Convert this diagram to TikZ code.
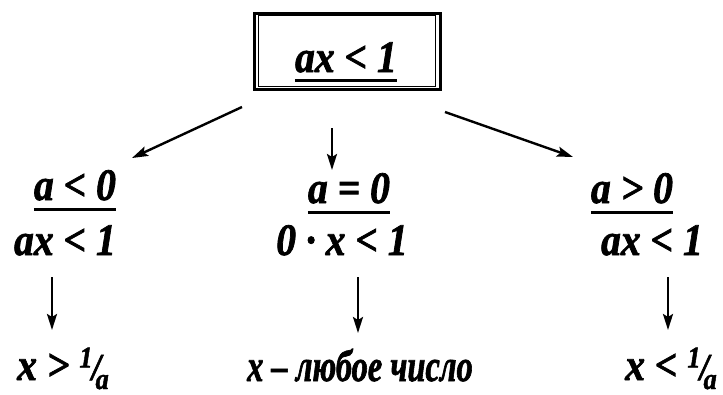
\documentclass[tikz,border=0pt]{standalone}
\usepackage{fontspec}
\setmainfont{Liberation Serif}[BoldItalicFeatures={FakeBold=1.6,FakeStretch=0.88}]
\usetikzlibrary{arrows.meta}
\newcommand\slfr[2]{\raisebox{0.28em}{\fontsize{30}{30}\selectfont #1}\kern-0.02em{\fontsize{38}{40}\selectfont /}\kern-0.12em\raisebox{-0.2em}{\fontsize{30}{30}\selectfont #2}}
\begin{document}
\begin{tikzpicture}[x=1pt,y=-1pt,
  txt/.style={inner sep=0pt,anchor=base,font=\fontsize{45}{50}\selectfont\bfseries\itshape},
  ul/.style={line width=3pt},
  arr/.style={line width=2.4pt,-{Stealth[length=16pt,width=10pt,inset=3pt]}}]
\useasboundingbox[fill=white] (0,0) rectangle (723,394);
% top box
\node[draw,line width=3pt,minimum width=186pt,minimum height=76pt,inner sep=0pt] (box) at (347.5,51.5) {};
\draw[line width=1.8pt] ([shift={(5.5pt,-3.5pt)}]box.north west) rectangle ([shift={(-6.5pt,4.5pt)}]box.south east);
\node[txt] (top) at (346,72) {ax < 1};
\draw[ul] ([yshift=-8pt]top.base west) -- ([yshift=-8pt]top.base east);
% second row
\node[txt] (L1) at (75,200) {a < 0};
\node[txt] (M1) at (349,203) {a = 0};
\node[txt] (R1) at (632,203) {a > 0};
\draw[ul] ([yshift=-9pt]L1.base west) -- ([yshift=-9pt]L1.base east);
\draw[ul] ([yshift=-9pt]M1.base west) -- ([yshift=-9pt]M1.base east);
\draw[ul] ([yshift=-9pt]R1.base west) -- ([yshift=-9pt]R1.base east);
% third row
\node[txt] (L2) at (65,255) {ax < 1};
\node[txt] (M2) at (342,255) {0 · x < 1};
\node[txt] (R2) at (652,255) {ax < 1};
% bottom row
\node[txt] (L3) at (63,380) {x > \slfr{1}{a}};
\node[txt] (M3) at (360,381) {\scalebox{0.82}[1]{x – любое число}};
\node[txt] (R3) at (671,380) {x < \slfr{1}{a}};
% arrows
\draw[arr] ([shift={(-11pt,-16pt)}]box.south west) -- ([shift={(57pt,42pt)}]L1.base);
\draw[arr] ([shift={(-15.5pt,-37pt)}]box.south) -- ([shift={(-17pt,33pt)}]M1.base);
\draw[arr] ([shift={(3pt,-21pt)}]box.south east) -- ([shift={(-59pt,46pt)}]R1.base);
\draw[arr] ([shift={(-13pt,-22pt)}]L2.base) -- ([shift={(-11pt,50pt)}]L3.base);
\draw[arr] ([shift={(16pt,-22pt)}]M2.base) -- ([shift={(-2pt,48pt)}]M3.base);
\draw[arr] ([shift={(16pt,-22pt)}]R2.base) -- ([shift={(-3pt,50pt)}]R3.base);
\end{tikzpicture}
\end{document}
